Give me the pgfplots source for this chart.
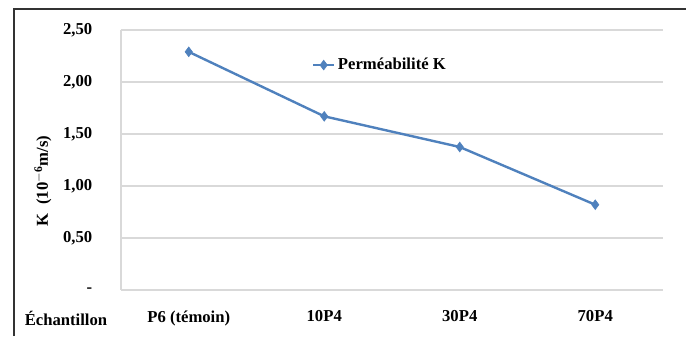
\documentclass[border=0pt]{standalone}
\usepackage{pgfplots}
\pgfplotsset{compat=1.18}
\usepackage{fontspec}
\setmainfont{Liberation Serif}
\definecolor{lineblue}{HTML}{4F81BD}
\definecolor{gridgray}{HTML}{D9D9D9}
\begin{document}
\begin{tikzpicture}[x=0.75pt,y=0.75pt]
\draw[line width=1.6pt, black!80] (14,0) -- (14,327) -- (686,327);
\begin{axis}[
  at={(90.75pt,34.5pt)}, anchor=south west,
  width=406.5pt, height=195pt, scale only axis,
  xmin=-0.5, xmax=3.5, ymin=0, ymax=2.5,
  xtick={0,1,2,3},
  xticklabels={P6 (témoin),10P4,30P4,70P4},
  ytick={0,0.5,1,1.5,2,2.5},
  yticklabels={{-},{0,50},{1,00},{1,50},{2,00},{2,50}},
  major tick length=0pt, minor tick num=0,
  xtick style={draw=none}, ytick style={draw=none},
  axis x line*=bottom, axis y line*=left,
  axis line style={-, draw=gridgray, line width=0.8pt},
  ymajorgrids, grid style={draw=gridgray, line width=0.8pt},
  tick label style={font=\bfseries\fontsize{12.5}{14}\selectfont},
  yticklabel style={xshift=-18pt},
  xticklabel style={yshift=-12pt},
  legend style={at={(rel axis cs:0.352,0.865)}, anchor=west, draw=none, fill=none,
    font=\bfseries\fontsize{12.5}{14}\selectfont, inner sep=0pt},
  legend cell align=left,
  legend image code/.code={\draw[#1] (0cm,0cm) -- (0.55cm,0cm); \draw[#1, mark repeat=1] plot coordinates {(0.275cm,0cm)};},
  clip=false,
]
\addplot[color=lineblue, line width=1.8pt, mark=diamond*, mark size=3.6pt, mark options={fill=lineblue, line width=0.5pt}]
  coordinates {(0,2.29) (1,1.67) (2,1.375) (3,0.82)};
\addlegendentry{Perméabilité K}
\end{axis}
\node[font=\bfseries\fontsize{12.5}{14}\selectfont, rotate=90] at (43,155) {K\ \ (10$^{\mathbf{-6}}$m/s)};
\node[font=\bfseries\fontsize{12.5}{14}\selectfont] at (66,18) {Échantillon};
\pgfresetboundingbox
\path[use as bounding box] (0,0) rectangle (686,336);
\end{tikzpicture}
\end{document}
